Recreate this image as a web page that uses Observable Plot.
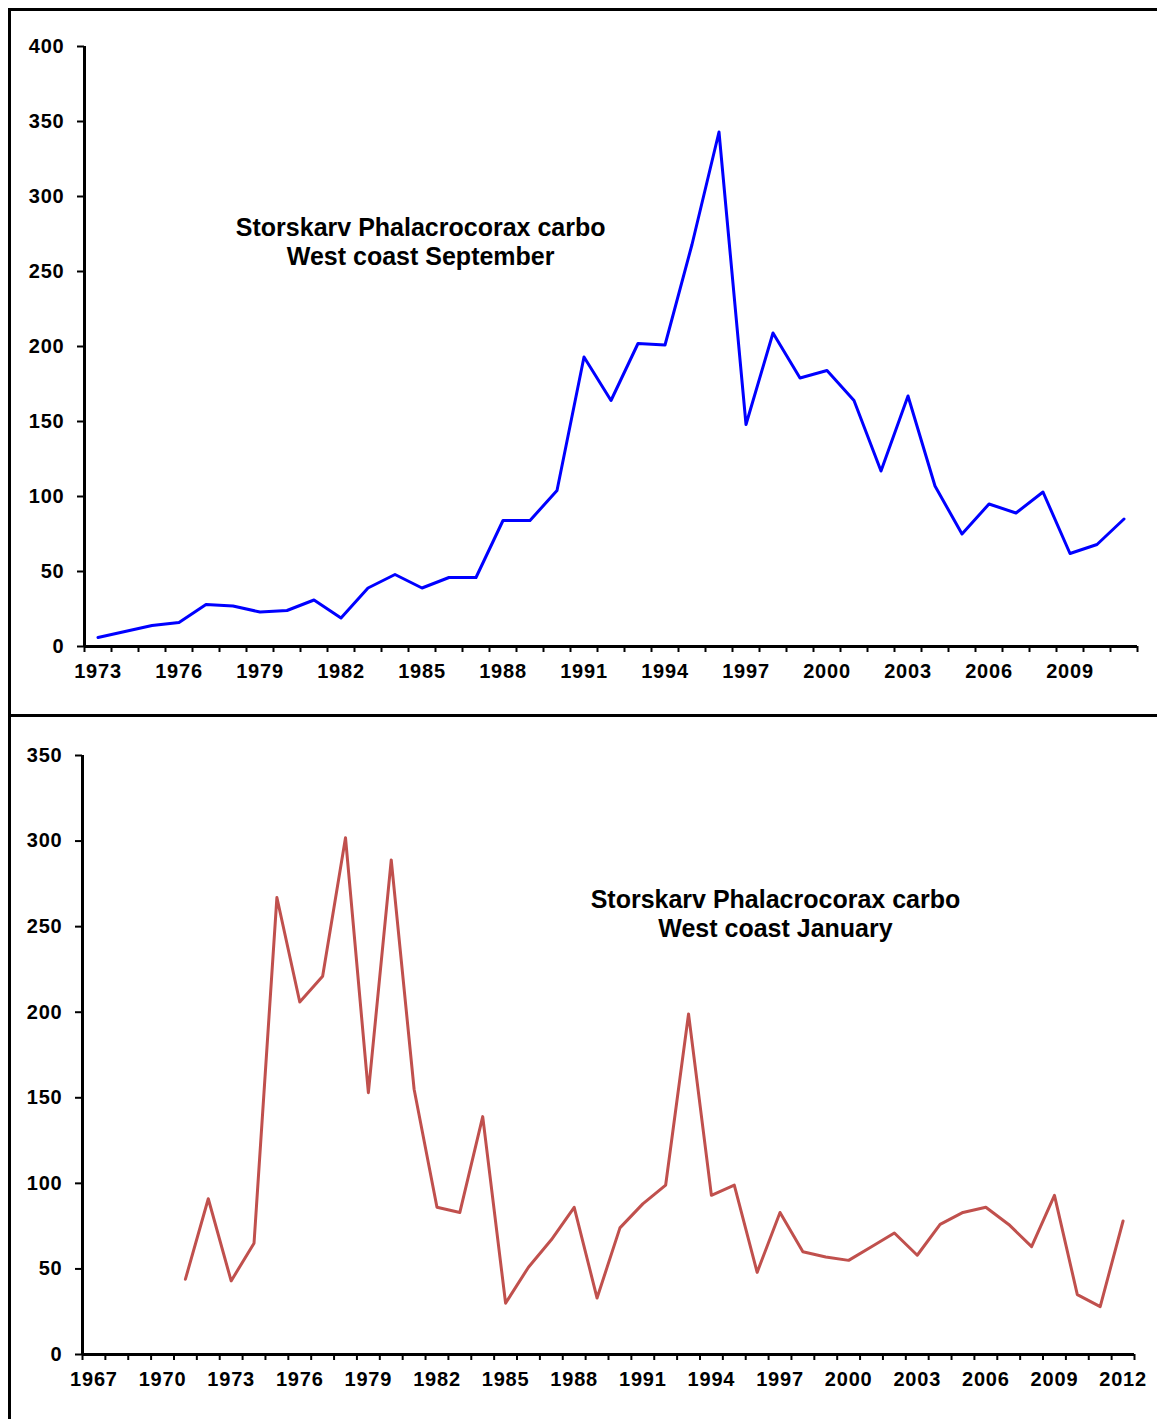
<!DOCTYPE html>
<html>
<head>
<meta charset="utf-8">
<script src="https://cdn.jsdelivr.net/npm/d3@7"></script>
<script src="https://cdn.jsdelivr.net/npm/@observablehq/plot@0.6"></script>
<style>
  html, body { margin: 0; padding: 0; background: #fff; }
  #wrap { position: relative; width: 1157px; height: 1419px; overflow: hidden; background: #fff; }
  #top, #bottom { position: absolute; left: 0; }
  #top { top: 0; }
  #bottom { top: 716px; }
  .border { position: absolute; background: #000; }
  #wrap svg g[aria-label="y-axis tick label"] text,
  #wrap svg g[aria-label="x-axis tick label"] text { letter-spacing: 0.8px; }
</style>
</head>
<body>
<div id="wrap">
  <div id="top"></div>
  <div id="bottom"></div>
  <div class="border" style="left:8px; top:8px; width:1149px; height:3px;"></div>
  <div class="border" style="left:8px; top:8px; width:3px; height:1411px;"></div>
  <div class="border" style="left:8px; top:714px; width:1149px; height:3px;"></div>
</div>
<script>
// ---- Data: September (top panel) ----
const sepYears = [1973,1974,1975,1976,1977,1978,1979,1980,1981,1982,1983,1984,1985,1986,1987,1988,1989,1990,1991,1992,1993,1994,1995,1996,1997,1998,1999,2000,2001,2002,2003,2004,2005,2006,2007,2008,2009,2010,2011];
const sepCounts = [6,10,14,16,28,27,23,24,31,19,39,48,39,46,46,84,84,104,193,164,202,201,268,343,148,209,179,184,164,117,167,107,75,95,89,103,62,68,85];
const sepYTicks = [0,50,100,150,200,250,300,350,400];
const sepXLabels = [1973,1976,1979,1982,1985,1988,1991,1994,1997,2000,2003,2006,2009];
const sepTitle = "Storskarv Phalacrocorax carbo\nWest coast September";

// ---- Data: January (bottom panel) ----
const janYears = [1971,1972,1973,1974,1975,1976,1977,1978,1979,1980,1981,1982,1983,1984,1985,1986,1987,1988,1989,1990,1991,1992,1993,1994,1995,1996,1997,1998,1999,2000,2001,2002,2003,2004,2005,2006,2007,2008,2009,2010,2011,2012];
const janCounts = [44,91,43,65,267,206,221,302,153,289,155,86,83,139,30,51,67,86,33,74,88,99,199,93,99,48,83,60,57,55,63,71,58,76,83,86,76,63,93,35,28,78];
const janYTicks = [0,50,100,150,200,250,300,350];
const janXLabels = [1967,1970,1973,1976,1979,1982,1985,1988,1991,1994,1997,2000,2003,2006,2009,2012];
const janTitle = "Storskarv Phalacrocorax carbo\nWest coast January";

const font = "'Liberation Sans', Arial, Helvetica, sans-serif";

function panel({years, counts, yTicks, xLabels, firstYear, lastYear, yMax, height, mt, mb, ml, mr, color, title, tx, ty}) {
  const data = years.map((y, i) => ({year: y, count: counts[i]}));
  const boundaries = d3.range(firstYear - 0.5, lastYear + 1, 1);
  return Plot.plot({
    width: 1157,
    height,
    marginTop: mt,
    marginBottom: mb,
    marginLeft: ml,
    marginRight: mr,
    x: {domain: [firstYear - 0.5, lastYear + 0.5]},
    y: {domain: [0, yMax]},
    style: {fontFamily: font, fontSize: "20px", fontWeight: "bold", color: "#000", background: "transparent", overflow: "visible"},
    marks: [
      Plot.axisY({ticks: yTicks, tickSize: 7, tickPadding: 13, tickFormat: d => String(d), label: null, strokeWidth: 2, fontSize: 20}),
      Plot.axisX({ticks: boundaries, tickSize: 6, tickFormat: () => "", label: null, strokeWidth: 2}),
      Plot.axisX({ticks: xLabels, tickSize: 0, tickPadding: 17, tickFormat: d => String(d), label: null, fontSize: 20}),
      Plot.ruleY([0], {strokeWidth: 3}),
      Plot.ruleX([firstYear - 0.5], {strokeWidth: 3}),
      Plot.line(data, {x: "year", y: "count", stroke: color, strokeWidth: 3}),
      Plot.text([title], {x: tx, y: ty, text: d => d, fontSize: 25, fontWeight: "bold", lineHeight: 1.16, fill: "#000"})
    ]
  });
}

document.getElementById("top").appendChild(panel({
  years: sepYears, counts: sepCounts, yTicks: sepYTicks, xLabels: sepXLabels,
  firstYear: 1973, lastYear: 2011, yMax: 400,
  height: 716, mt: 46, mb: 70, ml: 84, mr: 20,
  color: "#0000FF", title: sepTitle, tx: 1984.95, ty: 270
}));

document.getElementById("bottom").appendChild(panel({
  years: janYears, counts: janCounts, yTicks: janYTicks, xLabels: janXLabels,
  firstYear: 1967, lastYear: 2012, yMax: 350,
  height: 703, mt: 39, mb: 65, ml: 82, mr: 23,
  color: "#C0504D", title: janTitle, tx: 1996.8, ty: 258
}));
</script>
</body>
</html>
